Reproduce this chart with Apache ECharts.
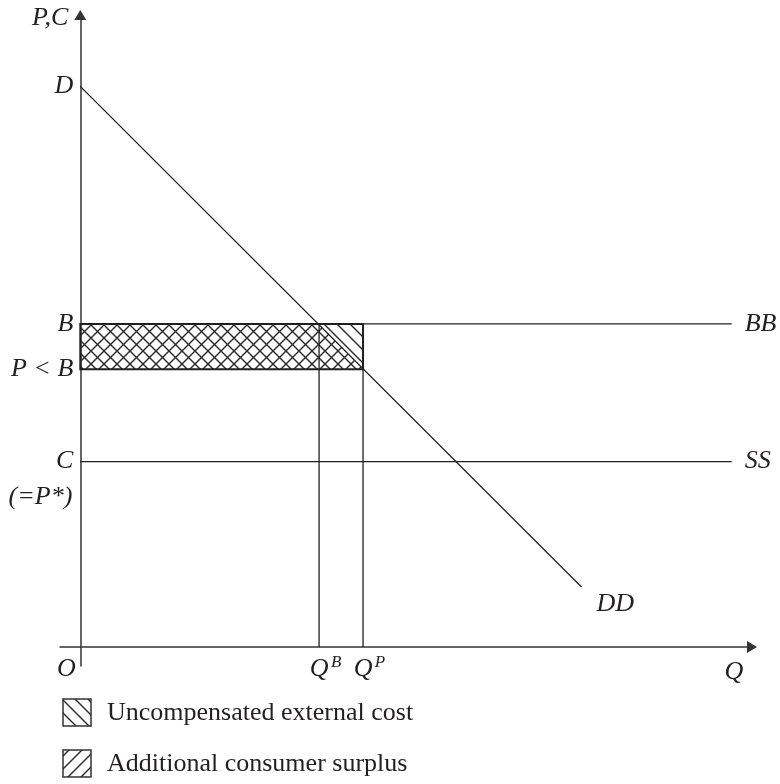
<!DOCTYPE html>
<html>
<head>
<meta charset="utf-8">
<title>Uncompensated external cost</title>
<script src="https://cdn.jsdelivr.net/npm/echarts@6/dist/echarts.min.js"></script>
<style>
html,body{margin:0;padding:0;background:#fff;}
#main{width:780px;height:784px;}
</style>
</head>
<body>
<div id="main"></div>
<script>
// values (Q across, P,C up)
var demand = [[0, 88], [74.1, 9.4]];
var priceB = 50.7;      // B  (BB line)
var priceP = 43.6;      // P < B
var priceC = 29.1;      // C (= P*)  (SS line)
var qB = 35.3;
var qP = 41.8;
var lineEnd = 96.3;     // where BB and SS stop

var yLabels = ['D', 'B', 'P < B', 'C'];
var yLabelValues = [88, 50.7, 43.6, 29.1];
var legendNames = ['Uncompensated external cost', 'Additional consumer surplus'];

var ink = '#231f20';
var font = 'Liberation Serif';

// little canvas tiles for the hatching
function hatch(dir) {
  var s = 13;
  var c = document.createElement('canvas');
  c.width = s; c.height = s;
  var g = c.getContext('2d');
  g.strokeStyle = '#2a2a2a';
  g.lineWidth = 1.4;
  for (var k = -1; k <= 1; k++) {
    g.beginPath();
    if (dir == 'down') {
      g.moveTo(k * s - 2, -2); g.lineTo(k * s + s + 2, s + 2);
    } else {
      g.moveTo(k * s - 2, s + 2); g.lineTo(k * s + s + 2, -2);
    }
    g.stroke();
  }
  return c;
}
var hatchDown = hatch('down');  // uncompensated external cost
var hatchUp = hatch('up');      // additional consumer surplus

function lineSeries(data, width) {
  return {
    type: 'line', data: data, showSymbol: false, silent: true,
    lineStyle: {color: ink, width: width || 1.3}, z: 3
  };
}

function polySeries(points, pattern, border) {
  return {
    type: 'custom', coordinateSystem: 'cartesian2d', silent: true,
    data: [[0, 0]], z: 2,
    renderItem: function (params, api) {
      return {
        type: 'polygon',
        shape: {points: points.map(function (p) { return api.coord(p); })},
        style: {
          fill: {image: pattern, repeat: 'repeat'},
          stroke: border ? ink : null,
          lineWidth: 2
        }
      };
    }
  };
}

var myChart = echarts.init(document.getElementById('main'));

var option = {
  animation: false,
  grid: {left: 60, right: 28, top: 15, bottom: 118},
  xAxis: {
    type: 'value', min: -3, max: 99.3,
    axisLine: {onZero: true, symbol: ['none', 'triangle'], symbolSize: [12, 10],
               lineStyle: {color: '#333', width: 1.5}},
    axisTick: {show: false}, axisLabel: {show: false}, splitLine: {show: false}
  },
  yAxis: {
    type: 'value', min: -3, max: 99.2,
    axisLine: {onZero: true, symbol: ['none', 'triangle'], symbolSize: [12, 10],
               lineStyle: {color: '#333', width: 1.5}},
    axisTick: {show: false}, axisLabel: {show: false}, splitLine: {show: false}
  },
  series: [
    polySeries([[0, priceP], [0, priceB], [qP, priceB], [qP, priceP]], hatchDown, true),
    polySeries([[0, priceP], [0, priceB], [qB, priceB], [qP, priceP]], hatchUp, false),
    lineSeries(demand),
    lineSeries([[0, priceB], [lineEnd, priceB]]),
    lineSeries([[0, priceC], [lineEnd, priceC]]),
    lineSeries([[qB, 0], [qB, priceB]]),
    lineSeries([[qP, 0], [qP, priceB]])
  ]
};
myChart.setOption(option);

// labels placed from the chart's own coordinates
function px(p) { return myChart.convertToPixel({gridIndex: 0}, p); }
function label(text, x, y, align, size, italic) {
  return {
    type: 'text', silent: true, z: 10, x: x, y: y,
    style: {
      text: text, fill: ink, align: align || 'center', verticalAlign: 'middle',
      font: (italic === false ? '' : 'italic ') + (size || 26) + 'px "' + font + '"'
    }
  };
}

var o = px([0, 0]);
var g = [];
yLabels.forEach(function (t, i) {
  var p = px([0, yLabelValues[i]]);
  g.push(label(t, p[0] - 7, p[1], 'right'));
});
var pc = px([0, priceC]);
g.push(label('(=P*)', pc[0] - 8, pc[1] + 36, 'right'));
var yTop = px([0, 99.2]);
g.push(label('P,C', yTop[0] - 12, yTop[1] + 3, 'right'));
g.push(label('O', o[0] - 14, o[1] + 22));
var qb = px([qB, 0]), qp = px([qP, 0]);
g.push(label('Q', qb[0], qb[1] + 22));
g.push(label('B', qb[0] + 17, qb[1] + 16, 'center', 17));
g.push(label('Q', qp[0], qp[1] + 22));
g.push(label('P', qp[0] + 17, qp[1] + 16, 'center', 17));
var xe = px([99.3, 0]);
g.push(label('Q', xe[0] - 18, xe[1] + 25));
var dd = px(demand[1]);
g.push(label('DD', dd[0] + 15, dd[1] + 17, 'left'));
var bb = px([lineEnd, priceB]), ss = px([lineEnd, priceC]);
g.push(label('BB', bb[0] + 13, bb[1], 'left'));
g.push(label('SS', ss[0] + 13, ss[1], 'left'));

// legend boxes
[hatchDown, hatchUp].forEach(function (pat, i) {
  var y0 = 699 + i * 51;
  g.push({
    type: 'rect', silent: true, z: 10,
    shape: {x: 63, y: y0, width: 28, height: 27},
    style: {fill: {image: pat, repeat: 'repeat'}, stroke: '#333', lineWidth: 1.5}
  });
  g.push(label(legendNames[i], 107, y0 + 14, 'left', 26, false));
});

myChart.setOption({graphic: g});
</script>
</body>
</html>
